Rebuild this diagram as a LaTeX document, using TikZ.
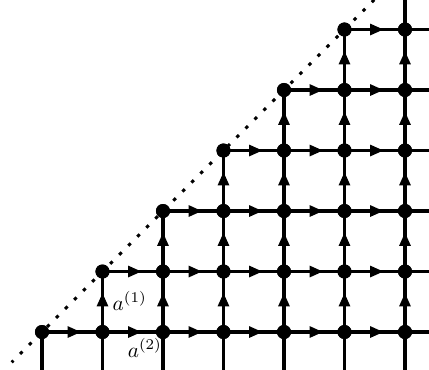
\documentclass[tikz,border=0pt]{standalone}
\usetikzlibrary{arrows.meta,decorations.markings}
\begin{document}
\begin{tikzpicture}[
  dot/.style={circle,fill=black,inner sep=0pt,minimum size=6.6pt},
  edge/.style={line width=1.8pt,postaction={decorate},decoration={markings,mark=at position 0.65 with {\arrow{Triangle[length=6.4pt,width=5pt]}}}},
  plain/.style={line width=1.8pt},
  lbl/.style={inner sep=0pt}
]
\useasboundingbox (-0.694,-0.612) rectangle (6.397,5.488);
\clip (-0.694,-0.612) rectangle (6.397,5.488);
\draw[line width=1.4pt,dash pattern=on 1.6pt off 4.4pt,dash phase=0.5pt] (-0.5,-0.5) -- (5.6,5.6);
% nodes
\foreach \i in {0,...,6}{
  \foreach \j in {0,...,5}{
    \ifnum\j>\i\relax\else
      \node[dot] (n-\i-\j) at (\i,\j) {};
    \fi
  }
}
% free ends
\foreach \i in {0,...,6}{ \coordinate (b-\i) at (\i,-0.7); }
\foreach \j in {0,...,5}{ \coordinate (r-\j) at (6.6,\j); }
\coordinate (t-6) at (6,5.6);
% horizontal edges
\foreach \i [evaluate=\i as \k using int(\i+1)] in {0,...,5}{
  \foreach \j in {0,...,5}{
    \ifnum\j>\i\relax\else
      \draw[edge] (n-\i-\j.center) -- (n-\k-\j.center);
    \fi
  }
}
% vertical edges
\foreach \i in {1,...,6}{
  \foreach \j [evaluate=\j as \m using int(\j+1)] in {0,...,4}{
    \ifnum\m>\i\relax\else
      \draw[edge] (n-\i-\j.center) -- (n-\i-\m.center);
    \fi
  }
}
% plain lines
\foreach \i in {0,...,6}{ \draw[plain] (n-\i-0.center) -- (b-\i); }
\foreach \j in {0,...,5}{ \draw[plain] (n-6-\j.center) -- (r-\j); }
\draw[plain] (n-6-5.center) -- (t-6);
% redraw nodes on top
\foreach \i in {0,...,6}{
  \foreach \j in {0,...,5}{
    \ifnum\j>\i\relax\else
      \fill (n-\i-\j.center) circle (3.3pt);
    \fi
  }
}
\node[lbl] (l1) at (1.45,0.51) {$a^{(1)}$};
\node[lbl] (l2) at (1.70,-0.26) {$a^{(2)}$};
\end{tikzpicture}
\end{document}
